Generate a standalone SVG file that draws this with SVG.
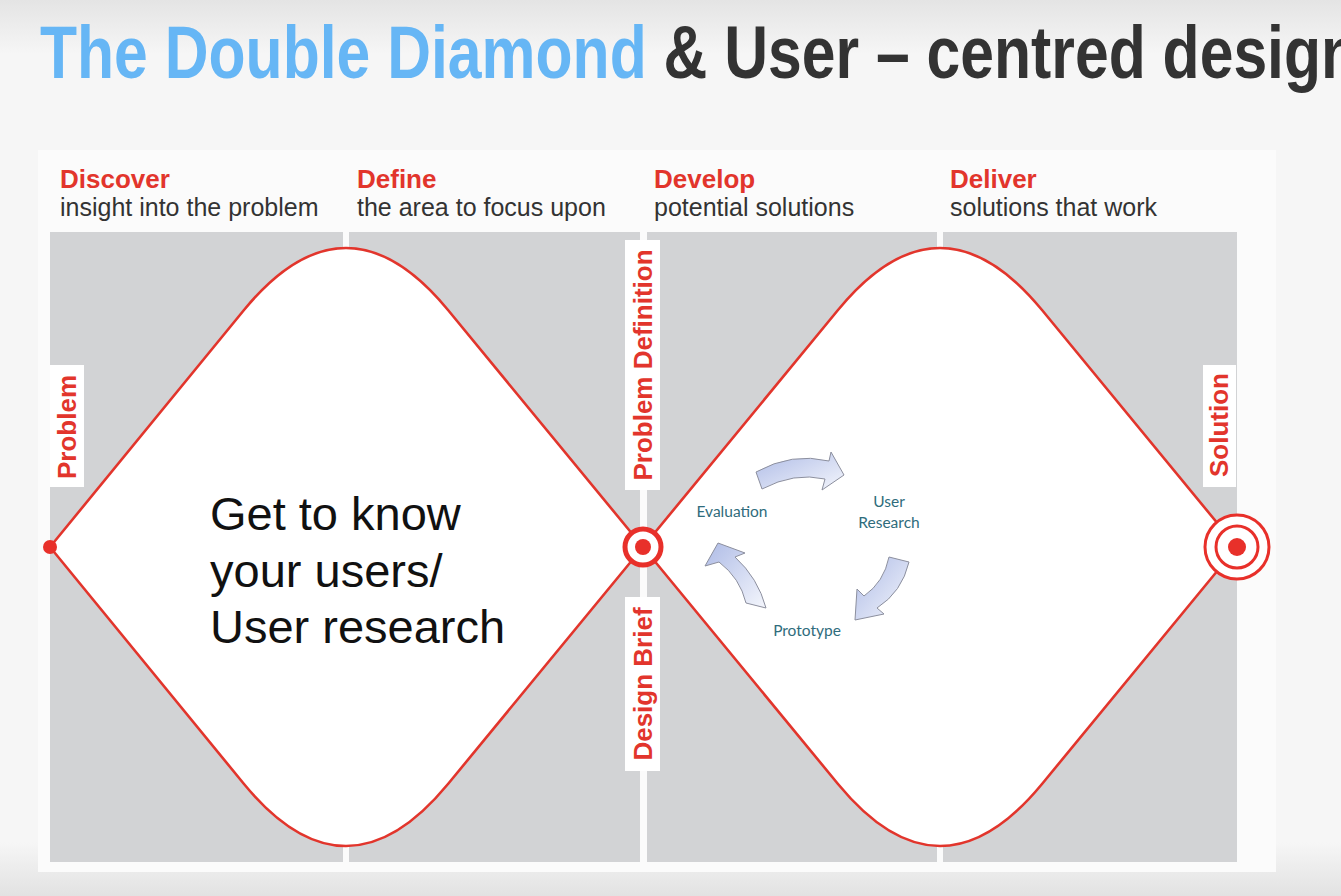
<svg xmlns="http://www.w3.org/2000/svg" width="1341" height="896" viewBox="0 0 1341 896">
  <defs>
    <linearGradient id="bg" x1="0" y1="0" x2="0" y2="1">
      <stop offset="0" stop-color="#e4e4e4"/>
      <stop offset="0.06" stop-color="#f6f6f6"/>
      <stop offset="0.94" stop-color="#f6f6f6"/>
      <stop offset="1" stop-color="#e2e2e2"/>
    </linearGradient>
    <linearGradient id="arrowFill" x1="0" y1="0" x2="1" y2="1">
      <stop offset="0" stop-color="#aebbe6"/>
      <stop offset="1" stop-color="#f4f6fc"/>
    </linearGradient>
    <style>
      .title { font-family: "Liberation Sans", Arial, sans-serif; font-weight: bold; font-size: 74px; }
      .phase { font-family: "Liberation Sans", Arial, sans-serif; font-weight: bold; font-size: 26px; fill: #e2352c; }
      .sub { font-family: "Liberation Sans", Arial, sans-serif; font-size: 25px; fill: #333333; }
      .panel { fill: #d2d3d5; }
      .tag { fill: #ffffff; }
      .vlabel { font-family: "Liberation Sans", Arial, sans-serif; font-weight: bold; font-size: 26px; fill: #e2352c; text-anchor: middle; }
      .diamond { fill: #ffffff; stroke: #e2352c; stroke-width: 2.6; stroke-linejoin: round; }
      .big { font-family: "Liberation Sans", Arial, sans-serif; font-size: 47px; fill: #111111; }
      .cycle { font-family: Lato, "Open Sans", sans-serif; font-size: 15.5px; fill: #2f6c7c; text-anchor: middle; }
      .arrow { fill: url(#arrowFill); stroke: #8c8f9e; stroke-width: 1; stroke-linejoin: round; }
    </style>
  </defs>

  <!-- slide background -->
  <rect x="0" y="0" width="1341" height="896" fill="url(#bg)"/>
  <rect x="38" y="150" width="1238" height="722" fill="#fbfbfb"/>

  <!-- heading -->
  <text class="title" transform="translate(40 78) scale(0.82 1)"><tspan fill="#66b6f5">The Double Diamond</tspan><tspan fill="#333333"> &amp; User – centred design</tspan></text>

  <!-- phase headers -->
  <g id="phase-discover">
    <text class="phase" x="60" y="188">Discover</text>
    <text class="sub" x="60" y="216">insight into the problem</text>
  </g>
  <g id="phase-define">
    <text class="phase" x="357" y="188">Define</text>
    <text class="sub" x="357" y="216">the area to focus upon</text>
  </g>
  <g id="phase-develop">
    <text class="phase" x="654" y="188">Develop</text>
    <text class="sub" x="654" y="216">potential solutions</text>
  </g>
  <g id="phase-deliver">
    <text class="phase" x="950" y="188">Deliver</text>
    <text class="sub" x="950" y="216">solutions that work</text>
  </g>

  <!-- grey phase panels -->
  <g id="panels">
    <rect class="panel" x="50" y="232" width="293" height="630"/>
    <rect class="panel" x="349" y="232" width="291" height="630"/>
    <rect class="panel" x="647" y="232" width="290" height="630"/>
    <rect class="panel" x="943" y="232" width="294" height="630"/>
  </g>

  <!-- diamonds -->
  <g id="diamond-problem">
    <path class="diamond" d="M 50 547 L 244 310 Q 346 186 448 310 L 643 547 L 448 784 Q 346 908 244 784 Z"/>
    <text class="big" x="210" y="530">Get to know</text>
    <text class="big" x="210" y="587">your users/</text>
    <text class="big" x="210" y="643">User research</text>
  </g>
  <g id="diamond-solution">
    <path class="diamond" d="M 643 547 L 838 310 Q 940 186 1042 310 L 1237 547 L 1042 784 Q 940 908 838 784 Z"/>
  </g>

  <!-- vertical labels -->
  <g id="label-problem">
    <rect class="tag" x="50" y="365" width="34" height="122"/>
    <text class="vlabel" transform="translate(76 427) rotate(-90)">Problem</text>
  </g>
  <g id="label-problem-definition">
    <rect class="tag" x="625" y="240" width="35" height="250"/>
    <text class="vlabel" transform="translate(652 365) rotate(-90)">Problem Definition</text>
  </g>
  <g id="label-design-brief">
    <rect class="tag" x="625" y="597" width="35" height="174"/>
    <text class="vlabel" transform="translate(652 684) rotate(-90)">Design Brief</text>
  </g>
  <g id="label-solution">
    <rect class="tag" x="1203" y="365" width="33" height="122"/>
    <text class="vlabel" transform="translate(1228 425) rotate(-90)">Solution</text>
  </g>

  <!-- milestone markers -->
  <g id="marker-start">
    <circle cx="50" cy="547" r="7" fill="#e8302a"/>
  </g>
  <g id="marker-brief">
    <circle cx="643" cy="547" r="18" fill="#ffffff" stroke="#e8302a" stroke-width="5"/>
    <circle cx="643" cy="547" r="8" fill="#e8302a"/>
  </g>
  <g id="marker-solution">
    <circle cx="1237" cy="547" r="32" fill="#ffffff" stroke="#e8302a" stroke-width="3"/>
    <circle cx="1237" cy="547" r="21" fill="none" stroke="#e8302a" stroke-width="3"/>
    <circle cx="1237" cy="547" r="9" fill="#e8302a"/>
  </g>

  <!-- iteration cycle -->
  <g id="cycle-evaluation">
    <text class="cycle" x="732" y="517">Evaluation</text>
  </g>
  <g id="cycle-user-research">
    <text class="cycle" x="889" y="507">User</text>
    <text class="cycle" x="889" y="528">Research</text>
  </g>
  <g id="cycle-prototype">
    <text class="cycle" x="807" y="636">Prototype</text>
  </g>
  <g id="connectors">
    <path class="arrow" d="M 756 472 Q 792 452 829 461 L 831 452 L 844 475 L 822 490 L 825 479 Q 794 472 762 489 Z"/>
    <path class="arrow" d="M 889 557 L 909 562 Q 902 592 877 608 L 884 614 L 855 620 L 857 589 L 864 596 Q 884 582 889 557 Z"/>
    <path class="arrow" d="M 746 603 Q 740 578 719 562 L 705 566 L 718 543 L 745 553 L 735 557 Q 758 578 766 608 Z"/>
  </g>
</svg>
